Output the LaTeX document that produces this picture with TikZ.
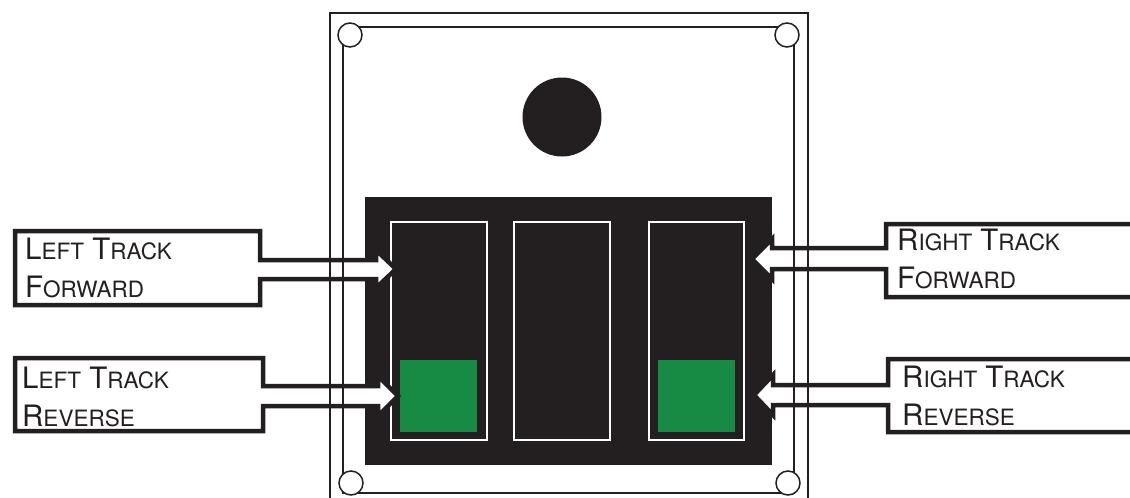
\documentclass[tikz,border=0pt]{standalone}
\usepackage{fontspec}
\setmainfont{TeX Gyre Heros}
\usetikzlibrary{positioning}
\definecolor{panelblack}{HTML}{231F20}
\definecolor{ledgreen}{HTML}{178A44}
\newcommand\capword[2]{#1{\fontsize{22.5}{38}\selectfont #2}}
\tikzset{
  callout/.style={draw=panelblack, line width=4.5pt, fill=white, line join=miter, miter limit=4},
  label/.style={anchor=north west, inner sep=0pt, align=left, text=panelblack,
                font=\fontsize{29.5}{38}\selectfont},
  frame/.style={draw=panelblack, line width=1.5pt},
  switchbox/.style={draw=white, line width=1.4pt},
  screw/.style={draw=panelblack, line width=1.5pt, fill=white},
}

\begin{document}
\begin{tikzpicture}[x=1pt, y=-1pt]
  \useasboundingbox (0,0) rectangle (1130,498);
  \clip (0,0) rectangle (1130,498);
  % control panel
  \fill[panelblack] (365,197) rectangle (772,465);
  \foreach \xa/\xb in {391/487, 514/610, 649/744} {
    \draw[switchbox] (\xa,222) rectangle (\xb,440);
  }
  \fill[ledgreen] (400,360) rectangle (477,432);
  \fill[ledgreen] (658,360) rectangle (735,432);
  \fill[panelblack] (562,117) circle (39.5);
  % callouts, left side
  \draw[callout] (15,231) -- (260,231) -- (260,260) -- (376,260) -- (376,250)
    -- (396,269) -- (376,288) -- (376,279) -- (260,279) -- (260,305) -- (15,305) -- cycle;
  \draw[callout] (15,358) -- (263,358) -- (263,386) -- (378,386) -- (378,376)
    -- (398,396) -- (378,416) -- (378,406) -- (263,406) -- (263,431) -- (15,431) -- cycle;
  % callouts, right side
  \draw[callout] (1140,224) -- (886,224) -- (886,248) -- (772,248) -- (772,239)
    -- (752,259) -- (772,279) -- (772,269) -- (886,269) -- (886,297) -- (1140,297);
  \draw[callout] (1140,359) -- (888,359) -- (888,385) -- (773,385) -- (773,375)
    -- (754,395) -- (773,415) -- (773,405) -- (888,405) -- (888,432) -- (1140,432);
  \node[label] (lfwd) at (25,238) {\capword{L}{EFT} \capword{T}{RACK}\\\capword{F}{ORWARD}};
  \node[label] (lrev) at (22,367) {\capword{L}{EFT} \capword{T}{RACK}\\\capword{R}{EVERSE}};
  \node[label] (rfwd) at (897,229) {\capword{R}{IGHT} \capword{T}{RACK}\\\capword{F}{ORWARD}};
  \node[label] (rrev) at (902,366) {\capword{R}{IGHT} \capword{T}{RACK}\\\capword{R}{EVERSE}};
  % mounting frame
  \draw[frame] (330,520) -- (330,13) -- (808,13) -- (808,520);
  \draw[frame] (343,27) rectangle (794,493);
  \foreach \cx/\cy in {350/35, 787/35, 351/483, 788/483} {
    \draw[screw] (\cx,\cy) circle (12);
  }
\end{tikzpicture}
\end{document}
